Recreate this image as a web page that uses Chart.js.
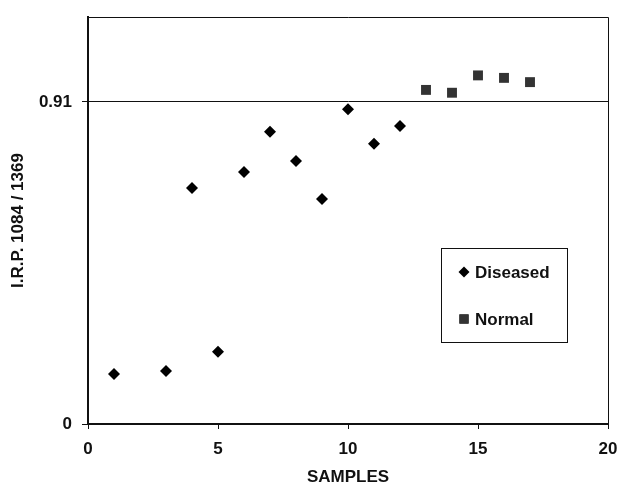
<!DOCTYPE html>
<html lang="en">
<head>
<meta charset="UTF-8">
<title>I.R.P. 1084 / 1369</title>
<script src="https://cdn.jsdelivr.net/npm/chart.js"></script>
<style>
    html, body {
        margin: 0;
        padding: 0;
        background: #fff;
    }
    #wrap {
        width: 618px;
        height: 484px;
    }
</style>
</head>
<body>
<div id="wrap"><canvas id="grafico"></canvas></div>
<script>
    // datos
    const diseasedX = [1, 3, 4, 5, 6, 7, 8, 9, 10, 11, 12];
    const diseasedY = [0.141, 0.150, 0.667, 0.204, 0.712, 0.826, 0.743, 0.636, 0.889, 0.792, 0.842];
    const normalX = [13, 14, 15, 16, 17];
    const normalY = [0.944, 0.936, 0.985, 0.978, 0.966];
    const xTicks = [0, 5, 10, 15, 20];
    const yTicks = [0, 0.91];

    const font = { family: '"Liberation Sans", Arial, sans-serif', size: 17, weight: 'bold' };
    const ink = '#111';

    function pares(xs, ys) {
        return xs.map((x, i) => ({ x: x, y: ys[i] }));
    }

    // marco superior y derecho del area
    const marco = {
        id: 'marco',
        afterDraw(chart) {
            const a = chart.chartArea;
            const c = chart.ctx;
            c.save();
            c.strokeStyle = ink;
            c.lineWidth = 1;
            c.beginPath();
            c.moveTo(a.left, a.top + 0.5);
            c.lineTo(a.right + 0.5, a.top + 0.5);
            c.lineTo(a.right + 0.5, a.bottom);
            c.stroke();
            c.restore();
        }
    };

    // leyenda en recuadro dentro del area
    const leyenda = {
        id: 'leyenda',
        afterDraw(chart) {
            const a = chart.chartArea;
            const c = chart.ctx;
            const x0 = a.left + 353, y0 = a.bottom - 176, w = 126, h = 94;
            c.save();
            c.fillStyle = '#fff';
            c.fillRect(x0, y0, w, h);
            c.strokeStyle = ink;
            c.lineWidth = 1;
            c.strokeRect(x0 + 0.5, y0 + 0.5, w, h);
            c.font = 'bold 17px "Liberation Sans", Arial, sans-serif';
            c.textBaseline = 'middle';
            chart.data.datasets.forEach((ds, i) => {
                const cy = y0 + 24 + i * 47;
                Chart.helpers.drawPoint(c, {
                    pointStyle: ds.pointStyle,
                    radius: ds.pointStyle === 'rect' ? 6.5 : 5.5,
                    borderWidth: 0
                }, x0 + 23, cy);
                c.fillStyle = ds.backgroundColor;
                c.fill();
                c.fillStyle = ink;
                c.fillText(ds.label, x0 + 34, cy + 1);
            });
            c.restore();
        }
    };

    const ctx = document.getElementById('grafico').getContext('2d');

    new Chart(ctx, {
        type: 'scatter',
        data: {
            datasets: [{
                label: 'Diseased',
                data: pares(diseasedX, diseasedY),
                pointStyle: 'rectRot',
                pointRadius: 6,
                backgroundColor: '#000',
                borderColor: '#000',
                borderWidth: 0
            }, {
                label: 'Normal',
                data: pares(normalX, normalY),
                pointStyle: 'rect',
                pointRadius: 7,
                backgroundColor: '#333',
                borderColor: '#333',
                borderWidth: 0
            }]
        },
        options: {
            responsive: true,
            maintainAspectRatio: false,
            animation: false,
            layout: { padding: { left: 0, top: 17, right: 0, bottom: 0 } },
            plugins: {
                legend: { display: false },
                tooltip: { enabled: false }
            },
            scales: {
                x: {
                    type: 'linear',
                    min: 0,
                    max: 20,
                    afterBuildTicks: (axis) => { axis.ticks = xTicks.map(v => ({ value: v })); },
                    afterFit: (axis) => { axis.height = 60; axis.paddingRight = 10; },
                    border: { display: true, color: ink, width: 2 },
                    grid: { drawOnChartArea: false, drawTicks: true, tickLength: 5, color: ink, lineWidth: 1 },
                    ticks: { color: ink, font: font, padding: 10, maxRotation: 0 },
                    title: { display: true, text: 'SAMPLES', color: ink, font: font, padding: { top: 4, bottom: -4 } }
                },
                y: {
                    type: 'linear',
                    min: 0,
                    max: 1.15,
                    afterBuildTicks: (axis) => { axis.ticks = yTicks.map(v => ({ value: v })); },
                    afterFit: (axis) => { axis.width = 88; axis.paddingTop = 0; axis.paddingBottom = 0; },
                    border: { display: true, color: ink, width: 2 },
                    grid: { drawOnChartArea: true, drawTicks: true, tickLength: 6, color: ink, lineWidth: 1 },
                    ticks: { color: ink, font: font, padding: 10, callback: (v) => String(v) },
                    title: { display: true, text: 'I.R.P. 1084 / 1369', color: ink, font: font, padding: { top: 8, bottom: 0 } }
                }
            }
        },
        plugins: [marco, leyenda]
    });
</script>
</body>
</html>
